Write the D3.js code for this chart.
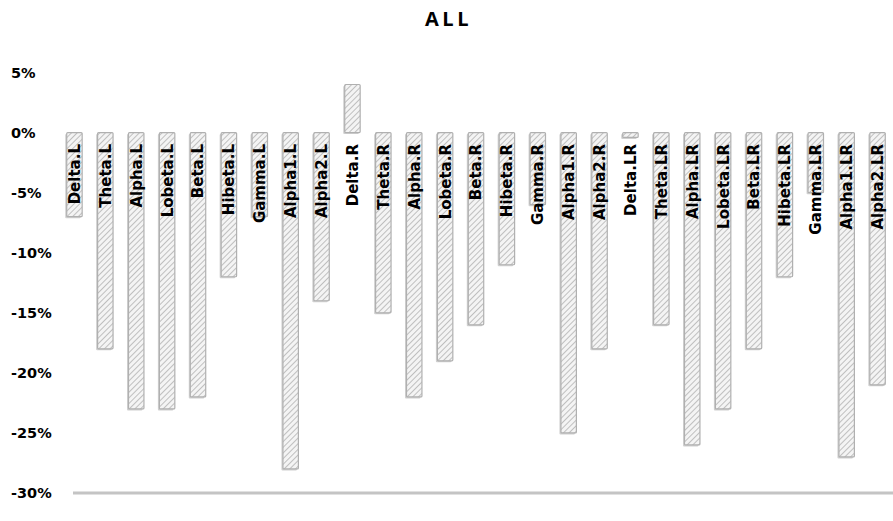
<!DOCTYPE html>
<html>
<head>
<meta charset="utf-8">
<script src="https://cdn.jsdelivr.net/npm/d3@7"></script>
<style>
	body { margin: 0; background: white; }
	svg { display: block; }
</style>
</head>
<body>
<svg id="bars" width="893" height="521" viewBox="0 0 893 521"></svg>
<script>

const categories = ["Delta.L", "Theta.L", "Alpha.L", "Lobeta.L", "Beta.L", "Hibeta.L", "Gamma.L", "Alpha1.L", "Alpha2.L",
	"Delta.R", "Theta.R", "Alpha.R", "Lobeta.R", "Beta.R", "Hibeta.R", "Gamma.R", "Alpha1.R", "Alpha2.R",
	"Delta.LR", "Theta.LR", "Alpha.LR", "Lobeta.LR", "Beta.LR", "Hibeta.LR", "Gamma.LR", "Alpha1.LR", "Alpha2.LR"];

// percent change per category
const change_values = [-7, -18, -23, -23, -22, -12, -7, -28, -14,
	4, -15, -22, -19, -16, -11, -6, -25, -18,
	-0.4, -16, -26, -23, -18, -12, -5, -27, -21];

const tick_values = [5, 0, -5, -10, -15, -20, -25, -30];
const tick_labels = ["5%", "0%", "-5%", "-10%", "-15%", "-20%", "-25%", "-30%"];

const chart_title = "ALL";

class HatchBars {

	constructor(svg_element_id) {
		this.svg = d3.select('#' + svg_element_id);
		const svg_viewbox = this.svg.node().viewBox.baseVal;
		this.svg_width = svg_viewbox.width;
		this.svg_height = svg_viewbox.height;

		const x_scale = d3.scaleBand()
			.domain(categories)
			.range([59, this.svg_width])
			.paddingInner(0.5)
			.paddingOuter(0.25);

		const y_scale = d3.scaleLinear()
			.domain([-30, 5])
			.range([493, 72.5]);

		// diagonal hatch fill
		const defs = this.svg.append("defs");
		const hatch = defs.append("pattern")
			.attr("id", "hatch")
			.attr("patternUnits", "userSpaceOnUse")
			.attr("width", 4)
			.attr("height", 4)
			.attr("patternTransform", "rotate(45)");
		hatch.append("rect")
			.attr("width", 4).attr("height", 4)
			.style("fill", "#f4f4f4");
		hatch.append("line")
			.attr("x1", 0).attr("y1", 0)
			.attr("x2", 0).attr("y2", 4)
			.style("stroke", "#a8a8a8")
			.style("stroke-width", 1.4);

		this.svg.append("text")
			.attr("x", this.svg_width / 2 + 2)
			.attr("y", 26)
			.attr("text-anchor", "middle")
			.style("font-family", "'Open Sans', sans-serif")
			.style("font-weight", 700)
			.style("font-size", "20px")
			.style("letter-spacing", "3.5px")
			.text(chart_title);

		// y tick labels
		this.svg.append("g")
			.selectAll(".tick-label")
			.data(tick_values)
			.enter().append("text")
			.classed("tick-label", true)
			.attr("x", 11)
			.attr("y", (d) => y_scale(d))
			.attr("dy", ".35em")
			.style("font-family", "'DejaVu Sans', sans-serif")
			.style("font-weight", 700)
			.style("font-size", "14.5px")
			.text((d, i) => tick_labels[i]);

		// bottom line
		this.svg.append("line")
			.attr("x1", 73).attr("x2", this.svg_width)
			.attr("y1", y_scale(-30)).attr("y2", y_scale(-30))
			.style("stroke", "#c4c4c4")
			.style("stroke-width", 3);

		const bar_g = this.svg.append("g");

		// soft shadow on the left side
		bar_g.selectAll(".bar-shadow")
			.data(categories)
			.enter().append("rect")
			.classed("bar-shadow", true)
			.attr("x", (d) => x_scale(d) - 1.5)
			.attr("y", (d, i) => Math.min(y_scale(change_values[i]), y_scale(0)) + 1.5)
			.attr("width", x_scale.bandwidth())
			.attr("height", (d, i) => Math.abs(y_scale(change_values[i]) - y_scale(0)))
			.attr("rx", 1)
			.style("fill", "#d0d0d0");

		bar_g.selectAll(".bar")
			.data(categories)
			.enter().append("rect")
			.classed("bar", true)
			.attr("x", (d) => x_scale(d))
			.attr("y", (d, i) => Math.min(y_scale(change_values[i]), y_scale(0)))
			.attr("width", x_scale.bandwidth())
			.attr("height", (d, i) => Math.abs(y_scale(change_values[i]) - y_scale(0)))
			.attr("rx", 1)
			.style("fill", "url(#hatch)")
			.style("stroke", "#b0b0b0")
			.style("stroke-width", 1.2);

		// category names, rotated, hanging below the zero line
		bar_g.selectAll(".bar-label")
			.data(categories)
			.enter().append("text")
			.classed("bar-label", true)
			.attr("transform", (d) => "translate(" + (x_scale(d) + x_scale.bandwidth() / 2) + "," + 144 + ") rotate(-90)")
			.attr("dy", ".36em")
			.attr("text-anchor", "end")
			.style("font-family", "'DejaVu Sans', sans-serif")
			.style("font-weight", 700)
			.style("font-size", "15px")
			.text((d) => d);
	}
}

function whenDocumentLoaded(action) {
	if (document.readyState === "loading") {
		document.addEventListener("DOMContentLoaded", action);
	} else {
		action();
	}
}

whenDocumentLoaded(() => {
	plot_object = new HatchBars('bars');
});
</script>
</body>
</html>
